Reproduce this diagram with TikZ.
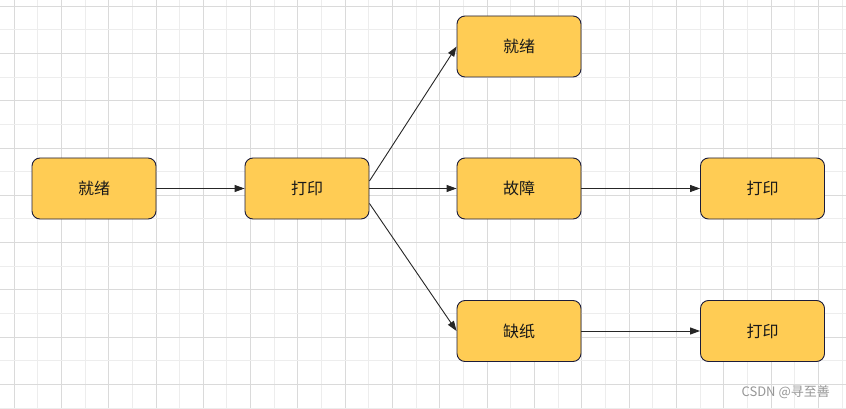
\documentclass[tikz,border=0pt]{standalone}
\usepackage{fontspec}
\newfontfamily\cjk{Noto Sans CJK SC}
\usetikzlibrary{arrows.meta}
\definecolor{boxfill}{RGB}{255,204,84}
\definecolor{boxline}{RGB}{28,28,58}
\definecolor{gridmaj}{RGB}{218,218,218}
\definecolor{gridmin}{RGB}{237,237,237}
\definecolor{wm}{RGB}{150,150,150}
\tikzset{
  state/.style={draw=boxline, fill=boxfill, line width=0.9pt, rounded corners=8pt,
    minimum width=124pt, minimum height=61pt, inner sep=0pt, font=\cjk\fontsize{16}{19}\selectfont, text=black!90},
  conn/.style={draw=black!85, line width=0.9pt, -{Triangle[length=10pt,width=7pt]}},
}
\begin{document}
\begin{tikzpicture}[x=1pt,y=-1pt]
\fill[white] (0,0) rectangle (846,409);
\useasboundingbox (0,0) rectangle (846,409);
% grid
\foreach \i in {0,...,35} {
  \pgfmathsetmacro{\xx}{14+23.66*\i}
  \pgfmathtruncatemacro{\odd}{mod(\i,2)}
  \ifnum\odd=0 \draw[gridmaj, line width=0.9pt] (\xx,0) -- (\xx,409);
  \else \draw[gridmin, line width=0.9pt] (\xx,0) -- (\xx,409); \fi
}
\foreach \j in {0,...,17} {
  \pgfmathsetmacro{\yy}{6+23.66*\j}
  \pgfmathtruncatemacro{\odd}{mod(\j,2)}
  \ifnum\odd=0 \draw[gridmaj, line width=0.9pt] (0,\yy) -- (846,\yy);
  \else \draw[gridmin, line width=0.9pt] (0,\yy) -- (846,\yy); \fi
}
% nodes
\node[state] (a) at (94,188.5) {就绪};
\node[state] (b) at (307,188.5) {打印};
\node[state] (c) at (519,46.5) {就绪};
\node[state] (d) at (519,188.5) {故障};
\node[state] (e) at (519,331) {缺纸};
\node[state] (f) at (762.5,188.5) {打印};
\node[state] (g) at (762.5,331) {打印};
% connectors
\coordinate (bu) at ([yshift=7.5pt]b.east);
\coordinate (bd) at ([yshift=-15pt]b.east);
\draw[conn] (a) -- (b);
\draw[conn] (b) -- (d);
\draw[conn] (d) -- (f);
\draw[conn] (e) -- (g);
\draw[conn] (bu) -- (c.west);
\draw[conn] (bd) -- (e.west);
% watermark
\node[anchor=east, text=wm, font=\fontspec{Noto Sans CJK SC}\fontsize{13}{15}\selectfont, inner sep=0pt] (wmk) at (830,392) {CSDN @寻至善};
\end{tikzpicture}
\end{document}
